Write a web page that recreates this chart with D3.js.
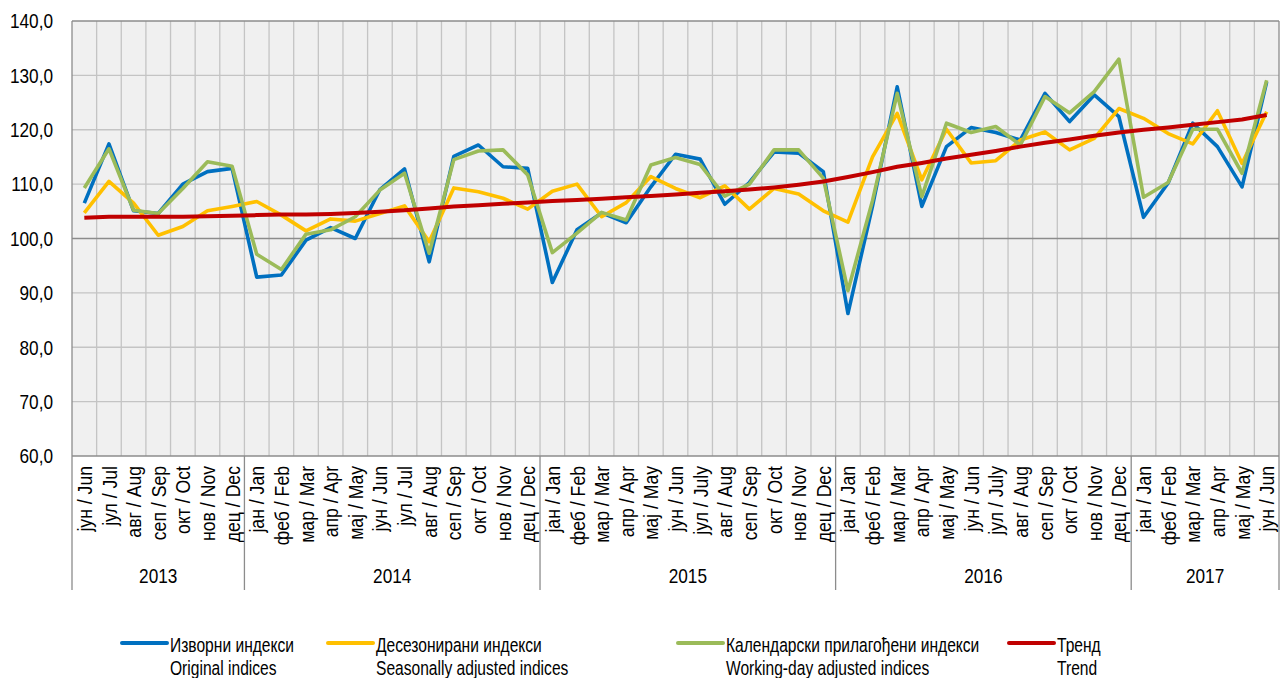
<!DOCTYPE html>
<html>
<head>
<meta charset="utf-8">
<script src="https://cdn.jsdelivr.net/npm/d3@7"></script>
<style>
  body { margin: 0; background: #fff; }
  svg text { font-family: "Liberation Sans", Arial, sans-serif; fill: #000; }
</style>
</head>
<body>
<div id="chart"></div>
<script>
const width = 1280;
const height = 678;

const monthLabels = [
  "јун / Jun", "јул / Jul", "авг / Aug", "сеп / Sep", "окт / Oct", "нов / Nov", "дец / Dec",
  "јан / Jan", "феб / Feb", "мар / Mar", "апр / Apr", "мај / May", "јун / Jun", "јул / Jul", "авг / Aug", "сеп / Sep", "окт / Oct", "нов / Nov", "дец / Dec",
  "јан / Jan", "феб / Feb", "мар / Mar", "апр / Apr", "мај / May", "јун / Jun", "јул / July", "авг / Aug", "сеп / Sep", "окт / Oct", "нов / Nov", "дец / Dec",
  "јан / Jan", "феб / Feb", "мар / Mar", "апр / Apr", "мај / May", "јун / Jun", "јул / July", "авг / Aug", "сеп / Sep", "окт / Oct", "нов / Nov", "дец / Dec",
  "јан / Jan", "феб / Feb", "мар / Mar", "апр / Apr", "мај / May", "јун / Jun"
];
const years = ["2013", "2014", "2015", "2016", "2017"];
const monthsPerYear = [7, 12, 12, 12, 6];

const original = [106.5, 117.4, 105.1, 104.6, 110.0, 112.3, 112.9, 92.9, 93.3, 99.7, 102.0, 100.0, 109.0, 112.8, 95.7, 115.1, 117.2, 113.2, 112.9, 91.9, 101.6, 104.7, 102.9, 109.5, 115.5, 114.6, 106.3, 110.3, 115.9, 115.7, 112.3, 86.2, 106.0, 127.9, 105.9, 116.9, 120.4, 119.5, 118.1, 126.7, 121.5, 126.4, 122.4, 103.9, 110.2, 121.2, 116.9, 109.5, 128.8];
const seasonal = [104.7, 110.5, 106.5, 100.6, 102.2, 105.1, 105.9, 106.8, 104.3, 101.4, 103.6, 103.2, 104.6, 106.0, 99.4, 109.3, 108.6, 107.4, 105.4, 108.7, 110.0, 104.0, 106.6, 111.4, 109.2, 107.5, 109.7, 105.4, 109.2, 108.2, 105.1, 103.0, 115.0, 123.0, 110.8, 120.1, 113.9, 114.3, 118.1, 119.6, 116.3, 118.4, 123.9, 122.1, 119.3, 117.4, 123.5, 113.8, 123.3];
const workingDay = [109.3, 116.5, 105.2, 104.6, 109.2, 114.1, 113.3, 97.1, 94.3, 100.8, 101.6, 104.0, 108.9, 112.0, 97.3, 114.5, 116.1, 116.3, 111.7, 97.4, 101.0, 104.8, 103.4, 113.5, 114.9, 113.6, 107.8, 110.0, 116.3, 116.3, 111.1, 90.4, 107.0, 126.7, 107.7, 121.2, 119.5, 120.6, 117.2, 126.1, 123.1, 127.0, 133.0, 107.6, 110.3, 120.1, 120.1, 112.0, 129.1];
const trend = [103.8, 104.0, 104.0, 104.0, 104.0, 104.1, 104.2, 104.3, 104.4, 104.4, 104.5, 104.7, 104.9, 105.2, 105.5, 105.9, 106.1, 106.4, 106.6, 106.9, 107.1, 107.3, 107.6, 107.8, 108.1, 108.4, 108.7, 109.0, 109.4, 109.9, 110.5, 111.3, 112.2, 113.2, 113.9, 114.7, 115.4, 116.1, 116.9, 117.6, 118.2, 118.9, 119.5, 120.0, 120.4, 120.9, 121.4, 121.9, 122.7];

const yTicks = [60, 70, 80, 90, 100, 110, 120, 130, 140];

const series = [
  { values: original,   color: "#0070c0", cyr: "Изворни индекси", lat: "Original indices" },
  { values: seasonal,   color: "#ffc000", cyr: "Десезонирани индекси", lat: "Seasonally adjusted indices" },
  { values: workingDay, color: "#9bbb59", cyr: "Календарски прилагођени индекси", lat: "Working-day adjusted indices" },
  { values: trend,      color: "#c00000", cyr: "Тренд", lat: "Trend" }
];

const plot = { left: 72, right: 1279, top: 21, bottom: 456 };
// narrow look: squeeze a regular sans horizontally
const narrow = 0.82;

const svg = d3.select("#chart").append("svg")
  .attr("width", width)
  .attr("height", height);

const x = d3.scaleBand()
  .domain(d3.range(monthLabels.length))
  .range([plot.left, plot.right]);

const y = d3.scaleLinear()
  .domain([60, 140])
  .range([plot.bottom, plot.top]);

// plot background
svg.append("rect")
  .attr("x", plot.left).attr("y", plot.top)
  .attr("width", plot.right - plot.left)
  .attr("height", plot.bottom - plot.top)
  .attr("fill", "#f0f0f0");

// vertical grid at category boundaries
svg.append("g").selectAll("line")
  .data(d3.range(1, monthLabels.length))
  .join("line")
  .attr("x1", d => x(d)).attr("x2", d => x(d))
  .attr("y1", plot.top).attr("y2", plot.bottom)
  .attr("stroke", "#c4c4c4").attr("stroke-width", 1.3);

// horizontal grid
svg.append("g").selectAll("line")
  .data(yTicks)
  .join("line")
  .attr("x1", plot.left).attr("x2", plot.right)
  .attr("y1", d => y(d)).attr("y2", d => y(d))
  .attr("stroke", d => (d === 100 || d === 60 || d === 140) ? "#8c8c8c" : "#c4c4c4")
  .attr("stroke-width", d => d === 100 ? 1.5 : 1.3);

// y labels
svg.append("g").selectAll("text")
  .data(yTicks)
  .join("text")
  .attr("transform", d => `translate(53,${y(d)}) scale(${narrow},1)`)
  .attr("dy", "0.35em")
  .attr("text-anchor", "end")
  .attr("font-size", 21)
  .text(d => d3.format(".1f")(d).replace(".", ","));

// plot border and year separators
const yearStarts = d3.cumsum([0, ...monthsPerYear]);
const xBottom = 590;
const edgeX = d => d === monthLabels.length ? plot.right : x(d);
svg.append("g").selectAll("line")
  .data(yearStarts)
  .join("line")
  .attr("x1", edgeX).attr("x2", edgeX)
  .attr("y1", d => (d === 0 || d === monthLabels.length) ? plot.top : plot.bottom)
  .attr("y2", xBottom)
  .attr("stroke", "#8c8c8c").attr("stroke-width", 1.3);

// month labels
svg.append("g").selectAll("text")
  .data(monthLabels)
  .join("text")
  .attr("transform", (d, i) => `translate(${x(i) + x.bandwidth() / 2},466) rotate(-90) scale(0.84,1)`)
  .attr("dy", "0.36em")
  .attr("text-anchor", "end")
  .attr("font-size", 21)
  .text(d => d);

// year labels
svg.append("g").selectAll("text")
  .data(years)
  .join("text")
  .attr("transform", (d, i) => `translate(${(edgeX(yearStarts[i]) + edgeX(yearStarts[i + 1])) / 2},583) scale(${narrow},1)`)
  .attr("text-anchor", "middle")
  .attr("font-size", 21)
  .text(d => d);

// lines
const line = d3.line()
  .x((d, i) => x(i) + x.bandwidth() / 2)
  .y(d => y(d));

svg.append("g").selectAll("path")
  .data(series)
  .join("path")
  .attr("d", d => line(d.values))
  .attr("fill", "none")
  .attr("stroke", d => d.color)
  .attr("stroke-width", d => d.values === trend ? 4 : 3.6)
  .attr("stroke-linejoin", "round");

// legend
const legendX = [122, 328, 678, 1009];
const legend = svg.append("g").selectAll("g")
  .data(series)
  .join("g")
  .attr("transform", (d, i) => `translate(${legendX[i]},643)`);

legend.append("line")
  .attr("x1", 0).attr("x2", 45)
  .attr("stroke", d => d.color)
  .attr("stroke-width", 4)
  .attr("stroke-linecap", "round");

legend.append("text")
  .attr("transform", `translate(48,9) scale(0.8,1)`)
  .attr("font-size", 19.5)
  .text(d => d.cyr);

legend.append("text")
  .attr("transform", `translate(48,32) scale(0.8,1)`)
  .attr("font-size", 19.5)
  .text(d => d.lat);
</script>
</body>
</html>
